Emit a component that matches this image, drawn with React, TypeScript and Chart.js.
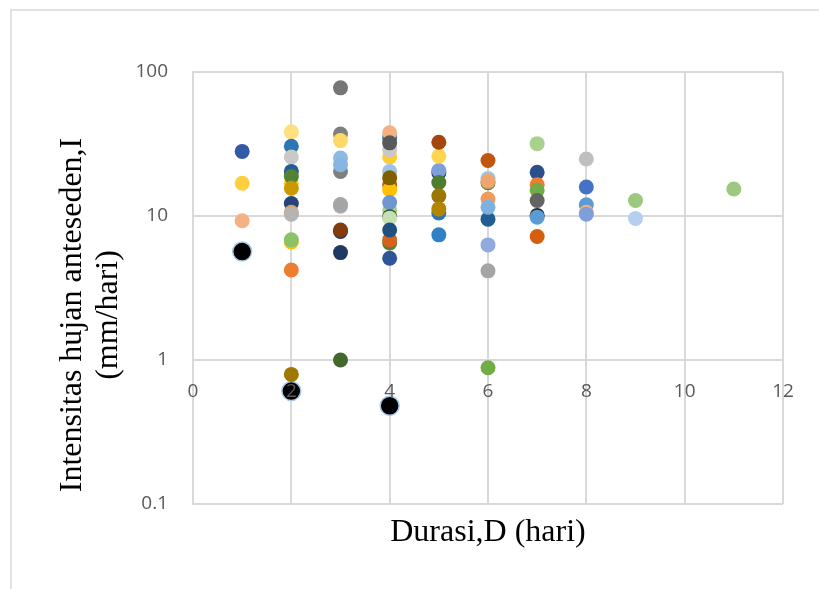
import { useEffect, useRef } from "react";
import { Chart, registerables } from "chart.js";

Chart.register(...registerables);

// Intensitas (mm/hari) untuk tiap durasi (hari), urut gambar (belakang -> depan)
const iD1 = [28.1, 16.9, 9.26];
const wD1 = ["#3459a5", "#ffcf3f", "#f4b183"];
const iD2 = [38.4, 30.5, 25.7, 20.4, 16.9, 18.8, 15.6, 12.2, 10.6, 10.3, 6.6, 6.83, 4.22, 0.794];
const wD2 = ["#ffdf80", "#2e75b6", "#c9c9c9", "#255e91", "#ffcc33", "#548235", "#c99a00", "#264478", "#d6a26e", "#b4b4b4", "#ffc000", "#8cc168", "#ed7d31", "#9e7800"];
const iD3 = [77.6, 37.1, 33.4, 20.4, 25.3, 22.7, 11.7, 12.0, 7.8, 8.0, 5.57, 1.0];
const wD3 = ["#767676", "#7f7f7f", "#ffd966", "#7f7f7f", "#8fbae3", "#86b6e2", "#b0b0b0", "#a5a5a5", "#203864", "#843c0c", "#1f3864", "#43682b"];
const iD4 = [35.0, 37.8, 25.7, 28.9, 32.2, 20.4, 16.5, 15.2, 18.4, 11.0, 12.4, 9.9, 9.66, 6.5, 6.83, 8.0, 5.09];
const wD4 = ["#2e75b6", "#f4b183", "#ffcc33", "#c9c9c9", "#595959", "#9dc3e6", "#c55a11", "#ffc000", "#7f6000", "#a9d18e", "#6f96d1", "#385723", "#c5e0b4", "#548235", "#d8621a", "#1f5080", "#2f5597"];
const iD5 = [20.0, 20.7, 26.0, 32.5, 17.1, 13.8, 10.5, 11.2, 7.4];
const wD5 = ["#264478", "#7f9fdb", "#ffd54f", "#a5460e", "#4e7d2f", "#9b7600", "#2e75b6", "#b38600", "#3080c6"];
const iD6 = [18.2, 17.0, 17.4, 24.3, 13.1, 9.51, 11.5, 6.3, 4.16, 0.883];
const wD6 = ["#9dc3e6", "#548235", "#f0a56f", "#c0560f", "#f19a5e", "#225e91", "#7fb1e0", "#8faadc", "#a5a5a5", "#70ad47"];
const iD7 = [31.8, 20.1, 16.5, 15.1, 12.8, 10.1, 9.82, 7.2];
const wD7 = ["#a9d18e", "#2b4f8c", "#ed7d31", "#70ad47", "#636363", "#262626", "#5b9bd5", "#d4600f"];
const iD8 = [24.9, 15.9, 11.97, 10.6, 10.3];
const wD8 = ["#bfbfbf", "#4472c4", "#5b9bd5", "#f4b183", "#7f9fdb"];
const iD9 = [12.8, 9.6];
const wD9 = ["#9dc97f", "#b4d0ee"];
const iD11 = [15.4];
const wD11 = ["#9dc97f"];

// Titik yang disorot (hitam)
const sorotDurasi = [1, 2, 4];
const sorotIntensitas = [5.66, 0.608, 0.481];

const yTickValues = [0.1, 1, 10, 100];
const yTitleLines = ["Intensitas hujan anteseden,I", "(mm/hari)"];
const xTitleText = "Durasi,D (hari)";

const groups: [number, number[], string[]][] = [
  [1, iD1, wD1],
  [2, iD2, wD2],
  [3, iD3, wD3],
  [4, iD4, wD4],
  [5, iD5, wD5],
  [6, iD6, wD6],
  [7, iD7, wD7],
  [8, iD8, wD8],
  [9, iD9, wD9],
  [11, iD11, wD11],
];

export default function App() {
  const ref = useRef<HTMLCanvasElement>(null);

  useEffect(() => {
    const canvas = ref.current;
    if (!canvas) return;

    const points: { x: number; y: number }[] = [];
    const colors: string[] = [];
    groups.forEach(([d, vals, cols]) => {
      vals.forEach((v, i) => {
        points.push({ x: d, y: v });
        colors.push(cols[i]);
      });
    });

    const tickFont = { family: "'Open Sans', sans-serif", size: 19 };
    const gridColor = "#d9d9d9";

    const decor = {
      id: "decor",
      beforeDraw(chart: any) {
        const ctx = chart.ctx;
        ctx.save();
        ctx.fillStyle = "#ffffff";
        ctx.fillRect(0, 0, chart.width, chart.height);
        ctx.strokeStyle = gridColor;
        ctx.lineWidth = 1.5;
        ctx.beginPath();
        ctx.moveTo(11, chart.height);
        ctx.lineTo(11, 10);
        ctx.lineTo(chart.width, 10);
        ctx.stroke();
        ctx.restore();
      },
      afterDraw(chart: any) {
        const ctx = chart.ctx;
        const area = chart.chartArea;
        ctx.save();
        ctx.fillStyle = "#000000";
        ctx.font = "32px 'Liberation Serif', 'Times New Roman', serif";
        ctx.textAlign = "center";
        ctx.textBaseline = "alphabetic";
        ctx.fillText(xTitleText, (area.left + area.right) / 2, 541);
        ctx.translate(0, 315);
        ctx.rotate(-Math.PI / 2);
        ctx.fillText(yTitleLines[0], 0, 81);
        ctx.fillText(yTitleLines[1], 0, 117);
        ctx.restore();
      },
    };

    const chart = new Chart(canvas, {
      type: "scatter",
      data: {
        datasets: [
          {
            data: points,
            backgroundColor: colors,
            borderColor: colors,
            borderWidth: 0,
            pointRadius: 7.5,
            xAxisID: "x",
            yAxisID: "y",
          },
          {
            data: sorotDurasi.map((d, i) => ({ x: d, y: sorotIntensitas[i] })),
            backgroundColor: "#000000",
            borderColor: "#a9cbe9",
            borderWidth: 1.5,
            pointRadius: 9.5,
            xAxisID: "x",
            yAxisID: "y",
          },
        ],
      },
      options: {
        animation: false,
        responsive: false,
        events: [],
        layout: { padding: { left: 0, top: 72, right: 36, bottom: 85 } },
        plugins: {
          legend: { display: false },
          tooltip: { enabled: false },
          title: { display: false },
        },
        scales: {
          x: {
            type: "linear",
            min: 0,
            max: 12,
            position: { y: 1 } as any,
            ticks: {
              stepSize: 2,
              padding: 20,
              z: 1,
              color: "#595959",
              font: tickFont,
              callback: (v: any) => String(v),
            },
            grid: { color: gridColor, lineWidth: 2, drawTicks: false, z: -1 },
            border: { display: true, color: gridColor, width: 2, z: 0 },
            afterFit(scale: any) {
              scale.height = 0;
            },
          },
          y: {
            type: "logarithmic",
            position: "left",
            min: 0.1,
            max: 100,
            afterBuildTicks(scale: any) {
              scale.ticks = yTickValues.map((v) => ({ value: v }));
            },
            ticks: {
              padding: 25,
              color: "#595959",
              font: tickFont,
              callback: (v: any) => String(v),
            },
            grid: { color: gridColor, lineWidth: 2, drawTicks: false },
            border: { display: true, color: gridColor, width: 2 },
            afterFit(scale: any) {
              scale.width = 193;
            },
          },
        },
      } as any,
      plugins: [decor],
    });

    return () => chart.destroy();
  }, []);

  return (
    <div
      style={{
        position: "fixed",
        left: 0,
        top: 0,
        width: 819,
        height: 589,
        background: "#ffffff",
      }}
    >
      <canvas ref={ref} width={819} height={589} style={{ display: "block" }} />
    </div>
  );
}
